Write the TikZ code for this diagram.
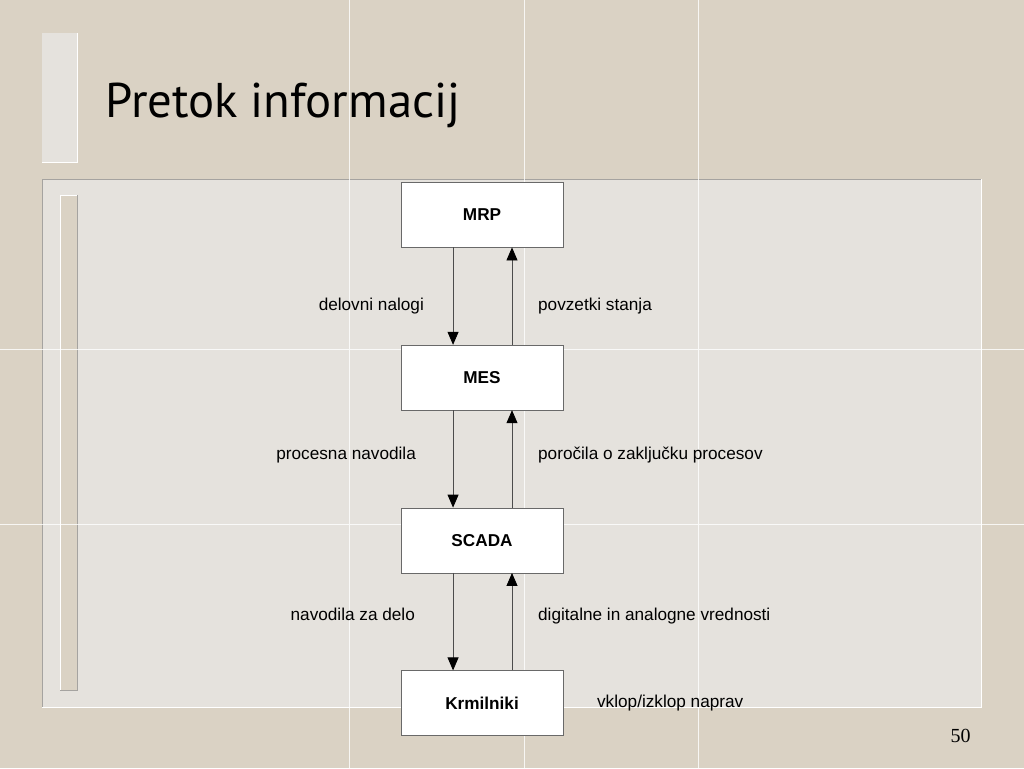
\documentclass[tikz,border=0pt]{standalone}
\usepackage{fontspec}
\setmainfont{Liberation Sans}
\newfontfamily\titlefont{PT Sans}
\newfontfamily\numfont{Liberation Serif}
\usetikzlibrary{arrows.meta,positioning}
\definecolor{paper}{RGB}{218,210,196}
\definecolor{panel}{RGB}{229,226,221}
\definecolor{panelrim}{RGB}{165,163,160}
\definecolor{boxline}{RGB}{105,105,105}

\begin{document}
\begin{tikzpicture}[x=1pt,y=-1pt,
                    every node/.style={font=\fontsize{17.2}{20}\selectfont},
                    layer/.style={rectangle,draw=boxline,fill=white,minimum width=162pt,
                                  minimum height=65pt,inner sep=0pt,
                                  font=\bfseries\fontsize{17.2}{20}\selectfont},
                    note/.style={inner sep=0pt},
                    flow/.style={draw=black!70,line width=0.8pt,
                                 -{Triangle[width=11pt,length=13pt,black]}},
                    node distance=97.5pt]

\fill[paper] (0,0) rectangle (1024,768);

\fill[panel] (42,33) rectangle (77,162);
\draw[white,line width=1.2pt] (77,33) -- (77,162) -- (42,162);
\fill[panel] (42,179) rectangle (982,708);
\draw[panelrim,line width=1.2pt] (42,708) -- (42,179) -- (982,179);
\draw[white,line width=1.2pt] (982,179) -- (982,708) -- (42,708);
\fill[paper] (60,195) rectangle (77,691);
\draw[white,line width=1.2pt] (60,691) -- (60,195) -- (77,195);
\draw[panelrim,line width=1.2pt] (77,195) -- (77,691) -- (60,691);

\draw[white,line width=0.8pt,opacity=0.8]
  (349,0) -- (349,768) (524,0) -- (524,768) (699,0) -- (699,768)
  (0,349) -- (1024,349) (0,524) -- (1024,524);

\node[note,anchor=base west,font=\titlefont\fontsize{48.8}{56}\selectfont] (title) at (105,117) {Pretok informacij};

\node[layer] (mrp) at (482,214.5) {MRP};
\node[layer,below=of mrp] (mes) {MES};
\node[layer,below=of mes] (scada) {SCADA};
\node[layer,below=of scada] (krm) {Krmilniki};

\draw[flow] ([xshift=-29pt]mrp.south) -- ([xshift=-29pt]mes.north);
\draw[flow] ([xshift=30pt]mes.north) -- ([xshift=30pt]mrp.south);
\draw[flow] ([xshift=-29pt]mes.south) -- ([xshift=-29pt]scada.north);
\draw[flow] ([xshift=30pt]scada.north) -- ([xshift=30pt]mes.south);
\draw[flow] ([xshift=-29pt]scada.south) -- ([xshift=-29pt]krm.north);
\draw[flow] ([xshift=30pt]krm.north) -- ([xshift=30pt]scada.south);

\node[note,anchor=base east] (nalogi) at (424,310) {delovni nalogi};
\node[note,anchor=base west] (povzetki) at (538,310) {povzetki stanja};
\node[note,anchor=base east] (navodila) at (416,459) {procesna navodila};
\node[note,anchor=base west] (porocila) at (538,459) {poročila o zaključku procesov};
\node[note,anchor=base east] (delo) at (415,621) {navodila za delo};
\node[note,anchor=base west] (vrednosti) at (538,621) {digitalne in analogne vrednosti};
\node[note,anchor=base west] (vklop) at (597,708) {vklop/izklop naprav};

\node[note,font=\numfont\fontsize{20}{24}\selectfont] (page) at (961,736) {50};

\end{tikzpicture}
\end{document}
